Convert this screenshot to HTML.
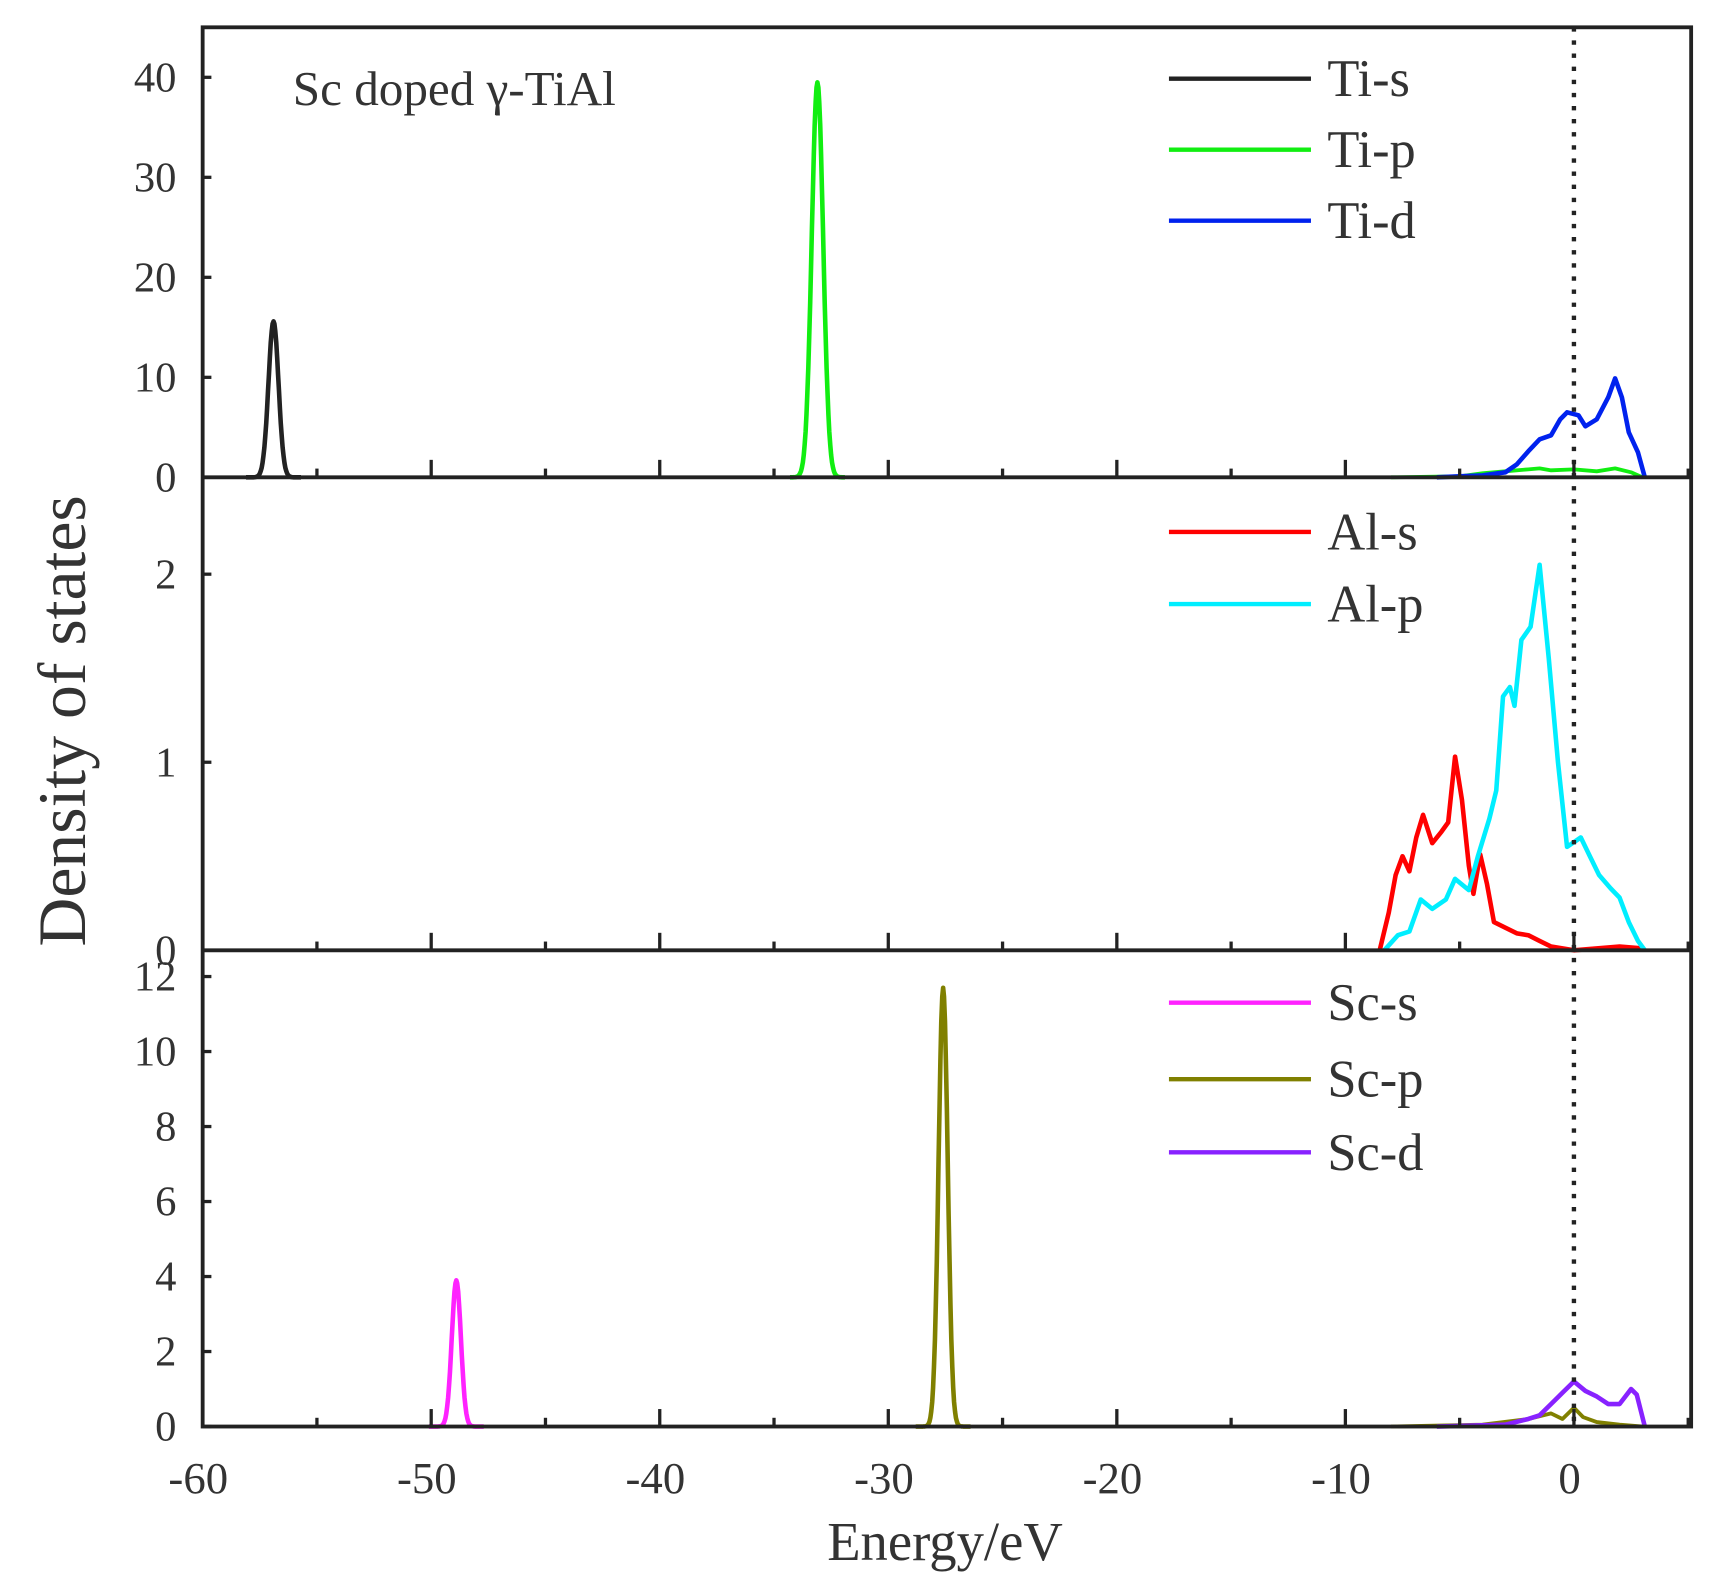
<!DOCTYPE html>
<html><head><meta charset="utf-8"><style>
html,body{margin:0;padding:0;background:#fff;}
svg{display:block;}
text{font-family:"Liberation Serif",serif;fill:#333;}
</style></head><body>
<svg id="s" width="1713" height="1586" viewBox="0 0 1568 1452" preserveAspectRatio="none" xmlns="http://www.w3.org/2000/svg"></svg>
<script>
const s=document.getElementById('s');
const NS='http://www.w3.org/2000/svg';
function el(t,a,txt){const e=document.createElementNS(NS,t);for(const k in a)e.setAttribute(k,a[k]);if(txt!==undefined)e.textContent=txt;s.appendChild(e);return e;}
const L=185.5,R=1548,T=25;
const X=E=>L+(E+60)*20.92;
const panels=[{top:25,bot:437,max:45},{top:437,bot:870,max:2.515},{top:870,bot:1306,max:12.7}];
function Y(p,v){const P=panels[p];return P.bot-(P.bot-P.top)*v/P.max;}
function gauss(c,h,sg){const pts=[];for(let E=c-1.2;E<=c+1.2;E+=0.04){pts.push([E,h*Math.exp(-((E-c)**2)/(2*sg*sg))]);}return pts;}
function line(p,pts,col,w){el('polyline',{points:pts.map(q=>X(q[0]).toFixed(1)+','+Y(p,q[1]).toFixed(1)).join(' '),fill:'none',stroke:col,'stroke-width':w||4.2,'stroke-linejoin':'round'});}
line(0,gauss(-56.9,15.6,0.22),'#222');
line(0,gauss(-33.1,39.5,0.25),'#1e1');
line(0,[[-8,0],[-5,0.1],[-4,0.4],[-3,0.6],[-2,0.8],[-1.5,0.9],[-1,0.7],[0,0.8],[1,0.6],[1.8,0.9],[2.5,0.5],[3,0]],'#1e1',3.5);
line(0,[[-6,0],[-5,0.1],[-4,0.2],[-3,0.5],[-2.5,1.3],[-2,2.6],[-1.5,3.8],[-1,4.2],[-0.6,5.8],[-0.3,6.5],[0.2,6.2],[0.5,5.1],[1,5.8],[1.5,8],[1.8,9.9],[2.1,8],[2.4,4.5],[2.8,2.5],[3.1,0]],'#0022ee');
line(1,[[-8.5,0],[-8.1,0.2],[-7.8,0.4],[-7.5,0.5],[-7.2,0.42],[-6.9,0.6],[-6.6,0.72],[-6.2,0.57],[-5.8,0.63],[-5.5,0.68],[-5.2,1.03],[-4.9,0.8],[-4.6,0.45],[-4.4,0.3],[-4.1,0.51],[-3.8,0.35],[-3.5,0.15],[-3,0.12],[-2.5,0.09],[-2,0.08],[-1.5,0.05],[-1,0.02],[0,0],[1,0.01],[2,0.02],[3,0.01]],'#ff0000');
line(1,[[-8.3,0],[-7.7,0.08],[-7.2,0.1],[-6.7,0.27],[-6.2,0.22],[-5.6,0.27],[-5.2,0.38],[-4.6,0.32],[-4.2,0.5],[-3.7,0.7],[-3.4,0.85],[-3.1,1.35],[-2.8,1.4],[-2.6,1.3],[-2.3,1.65],[-1.9,1.72],[-1.5,2.05],[-1.1,1.55],[-0.7,1.0],[-0.3,0.55],[0.3,0.6],[0.7,0.5],[1.1,0.4],[1.6,0.33],[2.0,0.28],[2.4,0.15],[2.8,0.05],[3.1,0]],'#00eeff');
line(2,gauss(-48.9,3.9,0.2),'#ff22ff');
line(2,gauss(-27.6,11.7,0.2),'#808000');
line(2,[[-8,0],[-4,0.05],[-2,0.2],[-1,0.35],[-0.5,0.2],[0,0.5],[0.4,0.25],[1,0.12],[2,0.05],[3,0]],'#808000',3.5);
line(2,[[-6,0],[-3,0.05],[-2,0.2],[-1.5,0.3],[-1,0.6],[-0.5,0.9],[0,1.2],[0.5,0.95],[1,0.8],[1.5,0.6],[2,0.6],[2.5,1.0],[2.75,0.85],[3.1,0]],'#8822ff');
el('rect',{x:L,y:T,width:R-L,height:1306-T,fill:'none',stroke:'#222','stroke-width':3.5});
el('line',{x1:L,y1:437,x2:R,y2:437,stroke:'#222','stroke-width':3.5});
el('line',{x1:L,y1:870,x2:R,y2:870,stroke:'#222','stroke-width':3.5});
el('line',{x1:X(0),y1:T,x2:X(0),y2:1306,stroke:'#222','stroke-width':4,'stroke-dasharray':'4,8'});
panels.forEach(P=>{for(let E=-55;E<=5;E+=5){const maj=E%10===0;el('line',{x1:X(E),y1:P.bot,x2:X(E),y2:P.bot-(maj?16:8),stroke:'#222','stroke-width':3});}});
for(let E=-60;E<=0;E+=10)el('text',{x:X(E)-4,y:1367,'font-size':41,'text-anchor':'middle'},(E<0?'-':'')+Math.abs(E));
const yt=[[0,[0,10,20,30,40]],[1,[0,1,2]],[2,[0,2,4,6,8,10,12]]];
yt.forEach(([p,vals])=>vals.forEach(v=>{const y=Y(p,v);el('line',{x1:L,y1:y,x2:L+8,y2:y,stroke:'#222','stroke-width':3});el('text',{x:L-24,y:y+13,'font-size':39,'text-anchor':'end'},v);}));
el('text',{x:865,y:1428,'font-size':50,'text-anchor':'middle'},'Energy/eV');
el('text',{x:0,y:0,'font-size':62,'text-anchor':'middle',transform:'translate(78,660) rotate(-90)'},'Density of states');
el('text',{x:268,y:96,'font-size':45},'Sc doped \u03b3-TiAl');
const leg=[[72,'#222','Ti-s'],[137,'#1e1','Ti-p'],[202,'#0022ee','Ti-d'],[487,'#ff0000','Al-s'],[553,'#00eeff','Al-p'],[918,'#ff22ff','Sc-s'],[988,'#808000','Sc-p'],[1055,'#8822ff','Sc-d']];
leg.forEach(([y,c,t])=>{el('line',{x1:1070,y1:y,x2:1200,y2:y,stroke:c,'stroke-width':4});el('text',{x:1215,y:y+16,'font-size':48},t);});
</script>
</body></html>
